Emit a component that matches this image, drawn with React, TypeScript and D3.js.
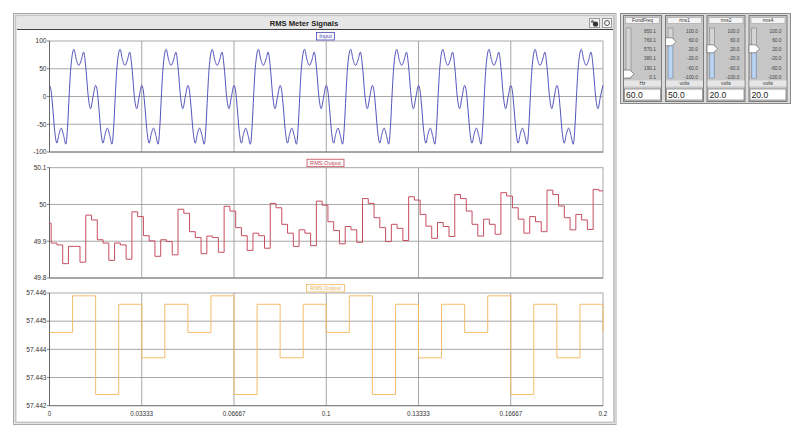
import React from 'react';
import * as d3 from 'd3';

// x axis (seconds)
const xTicks = [0, 0.03333, 0.06667, 0.1, 0.13333, 0.16667, 0.2];
const xTickLabels = ['0', '0.03333', '0.06667', '0.1', '0.13333', '0.16667', '0.2'];

// y ticks of the three graphs
const inputTicks = [-100, -50, 0, 50, 100];
const inputTickLabels = ['-100', '-50', '0', '50', '100'];
const rms1Ticks = [49.8, 49.9, 50, 50.1];
const rms1TickLabels = ['49.8', '49.9', '50', '50.1'];
const rms2Ticks = [57.442, 57.443, 57.444, 57.445, 57.446];
const rms2TickLabels = ['57.442', '57.443', '57.444', '57.445', '57.446'];

// one cycle of the input waveform (phase 0..1 of a 60 Hz period)
const fundPeriod = 1 / 60;
const inputCycles = 12;
const inputPhase = [0, 0.035, 0.07, 0.11, 0.16, 0.205, 0.255, 0.305, 0.355, 0.395, 0.425,
  0.46, 0.53, 0.58, 0.635, 0.69, 0.74, 0.79, 0.84, 0.89, 0.945];
const inputCycle = [20, 10, -20, -60, -84, -68, -57, -70, -86, -50, 0,
  50, 85, 67, 56, 66, 80, 50, 0, -22, 0];

// RMS Output (red) : step values, first one is a short partial step
const rms1FirstEdge = 0.0006;
const rms1Dt = 0.2 / 96;
const rms1Values = [
  49.949,
  49.895, 49.890, 49.839, 49.886, 49.886, 49.843,
  49.971, 49.958, 49.904, 49.895, 49.848, 49.895, 49.890, 49.851,
  49.980, 49.967, 49.915, 49.901, 49.859, 49.904, 49.899, 49.863,
  49.987, 49.976, 49.926, 49.910, 49.866, 49.914, 49.910, 49.870,
  49.995, 49.982, 49.937, 49.915, 49.875, 49.922, 49.915, 49.881,
  50.003, 49.991, 49.946, 49.922, 49.886, 49.931, 49.922, 49.888,
  50.009, 49.998, 49.953, 49.929, 49.893, 49.940, 49.931, 49.897,
  50.016, 50.003, 49.964, 49.937, 49.899, 49.946, 49.935, 49.902,
  50.021, 50.012, 49.973, 49.941, 49.908, 49.951, 49.940, 49.913,
  50.027, 50.016, 49.982, 49.946, 49.914, 49.960, 49.946, 49.919,
  50.032, 50.023, 49.991, 49.960, 49.922, 49.967, 49.953, 49.926,
  50.039, 50.027, 49.996, 49.964, 49.931, 49.973, 49.958, 49.932,
  50.041, 50.037,
];

// RMS Output (orange) : one value per half cycle
const rms2Dt = 0.2 / 24;
const rms2Values = [
  57.4446, 57.4459, 57.4424, 57.4456, 57.4437, 57.4456,
  57.4446, 57.4459, 57.4424, 57.4456, 57.4437, 57.4456,
  57.4446, 57.4459, 57.4424, 57.4456, 57.4437, 57.4456,
  57.4446, 57.4459, 57.4424, 57.4456, 57.4437, 57.4456,
  57.4446,
];

// slider panel
const sliderNames = ['FundFreq', 'rms1', 'rms2', 'rms4'];
const sliderUnits = ['Hz', 'volts', 'volts', 'volts'];
const sliderValues = [60, 50, 20, 20];
const sliderMin = [0.1, -100, -100, -100];
const sliderMax = [950.1, 100, 100, 100];
const freqScaleLabels = ['950.1', '760.1', '570.1', '380.1', '190.1', '0.1'];
const voltScaleLabels = ['100.0', '60.0', '20.0', '-20.0', '-60.0', '-100.0'];

type Pt = { t: number; v: number };

const FONT = 'Liberation Sans, Arial, sans-serif';

export default function App() {
  const left = 49.5;
  const right = 603;
  const x = d3.scaleLinear().domain([0, 0.2]).range([left, right]);

  const inputPts: Pt[] = [];
  for (let c = 0; c < inputCycles; c++) {
    inputPhase.forEach((p, i) => inputPts.push({ t: (c + p) * fundPeriod, v: inputCycle[i] }));
  }
  inputPts.push({ t: 0.2, v: inputCycle[0] });

  const rms1Pts: Pt[] = rms1Values.map((v, i) => ({
    t: i === 0 ? 0 : rms1FirstEdge + (i - 1) * rms1Dt,
    v,
  }));
  rms1Pts.push({ t: 0.2, v: rms1Values[rms1Values.length - 1] });

  const rms2Pts: Pt[] = rms2Values.map((v, i) => ({ t: Math.min(i * rms2Dt, 0.2), v }));

  const panels = [
    { top: 41, bottom: 152, domain: [-100, 100], ticks: inputTicks, labels: inputTickLabels,
      legend: 'Input', color: '#4a4ab8', pts: inputPts, curve: d3.curveMonotoneX, lw: 18 },
    { top: 167.7, bottom: 278, domain: [49.8, 50.1], ticks: rms1Ticks, labels: rms1TickLabels,
      legend: 'RMS Output', color: '#c44656', pts: rms1Pts, curve: d3.curveStepAfter, lw: 37 },
    { top: 293, bottom: 405.7, domain: [57.442, 57.446], ticks: rms2Ticks, labels: rms2TickLabels,
      legend: 'RMS Output', color: '#f3b862', pts: rms2Pts, curve: d3.curveStepAfter, lw: 38 },
  ];

  const legendX = 325;

  // slider geometry
  const sliderLeft = [623, 665, 706.5, 748.5];
  const trackY = d3.scaleLinear().domain([0, 1]).range([77, 30]);

  return (
    <svg width={800} height={446} style={{ position: 'absolute', left: 0, top: 0, background: '#fff' }}
      fontFamily={FONT}>
      {/* window frame */}
      <rect x={13.5} y={13.5} width={602.5} height={411} fill="#fff" stroke="#a8a8a8" strokeWidth={1} />
      <rect x={15.5} y={15.5} width={598.5} height={407} fill="none" stroke="#c8c8c8" strokeWidth={2} />
      <rect x={17} y={17} width={596} height={12} fill="#e6e6e6" />
      <line x1={17} x2={613} y1={29.5} y2={29.5} stroke="#404040" />
      <text x={304} y={25.5} textAnchor="middle" fontSize={7.6} fontWeight="bold" fill="#222">RMS Meter Signals</text>
      {/* title bar icons */}
      <g>
        <rect x={589.5} y={18.5} width={10} height={9} fill="#f2f2f2" stroke="#9a9a9a" />
        <circle cx={595.5} cy={24} r={2.6} fill="#333" />
        <circle cx={592.5} cy={21.5} r={1.6} fill="#777" />
        <rect x={602.5} y={18.5} width={9} height={9} fill="#f8f8f8" stroke="#9a9a9a" />
        <circle cx={607} cy={23} r={2.5} fill="none" stroke="#444" strokeWidth={0.9} />
      </g>

      {panels.map((p, pi) => {
        const y = d3.scaleLinear().domain(p.domain).range([p.bottom, p.top]);
        const line = d3.line<Pt>().x(d => x(d.t)).y(d => y(d.v)).curve(p.curve);
        return (
          <g key={pi}>
            {xTicks.slice(1, -1).map((t, i) => (
              <line key={'vx' + i} x1={x(t)} x2={x(t)} y1={p.top} y2={p.bottom} stroke="#909090" strokeWidth={0.8} />
            ))}
            {p.ticks.slice(1, -1).map((t, i) => (
              <line key={'hy' + i} x1={left} x2={right} y1={y(t)} y2={y(t)} stroke="#909090" strokeWidth={0.8} />
            ))}
            <rect x={left} y={p.top} width={right - left} height={p.bottom - p.top} fill="none" stroke="#a0a0a0" strokeWidth={0.9} />
            <line x1={left} x2={left} y1={p.top} y2={p.bottom} stroke="#606060" strokeWidth={0.9} />
            <line x1={left} x2={right} y1={p.bottom} y2={p.bottom} stroke="#707070" strokeWidth={0.9} />
            {p.ticks.map((t, i) => (
              <g key={'yt' + i}>
                <line x1={left - 2.5} x2={left} y1={y(t)} y2={y(t)} stroke="#606060" strokeWidth={0.8} />
                <text x={left - 3} y={y(t)} dy="0.35em" textAnchor="end" fontSize={6.6} fill="#333">{p.labels[i]}</text>
              </g>
            ))}
            <path d={line(p.pts) || ''} fill="none" stroke={p.color} strokeWidth={0.95} />
            <rect x={legendX - p.lw / 2 + 0.5} y={p.top - 9 + 0.5} width={p.lw} height={7.5}
              fill="#fbfbfb" stroke={p.color} strokeWidth={0.8} />
            <text x={legendX + 0.5} y={p.top - 3} textAnchor="middle" fontSize={5.6} fill={p.color}>{p.legend}</text>
          </g>
        );
      })}

      {xTicks.map((t, i) => (
        <text key={'xt' + i} x={x(t)} y={416} textAnchor="middle" fontSize={6.3} fill="#333">{xTickLabels[i]}</text>
      ))}

      {/* slider group */}
      <rect x={620.5} y={13.5} width={170} height={90} fill="#dcdcdc" stroke="#8a8a8a" />
      {sliderNames.map((name, i) => {
        const px = sliderLeft[i];
        const frac = (sliderValues[i] - sliderMin[i]) / (sliderMax[i] - sliderMin[i]);
        const ty = trackY(frac);
        const labels = i === 0 ? freqScaleLabels : voltScaleLabels;
        const labelY = d3.scaleLinear().domain([0, labels.length - 1]).range([31.5, 77]);
        return (
          <g key={name}>
            <rect x={px + 0.5} y={15.5} width={38} height={86} fill="#c6c6c6" stroke="#7c7c7c" />
            <rect x={px + 2.5} y={17.5} width={34} height={6} fill="#f4f4f4" stroke="#a0a0a0" strokeWidth={0.6} />
            <text x={px + 19.5} y={22.3} textAnchor="middle" fontSize={4.8} fill="#333">{name}</text>
            <rect x={px + 3} y={28} width={5} height={50} fill="#d4d4d4" stroke="#8e8e8e" strokeWidth={0.7} />
            {i > 0 && (
              <rect x={px + 3.5} y={ty} width={4} height={78 - ty} fill="#bcd6f2" stroke="#7ea6d6" strokeWidth={0.5} />
            )}
            {labels.map((l, k) => (
              <text key={k} x={px + 33} y={labelY(k)} dy="0.35em" textAnchor="end" fontSize={4.8} fill="#444">{l}</text>
            ))}
            <polygon
              points={`${px + 0.5},${ty - 4} ${px + 7},${ty - 4} ${px + 11},${ty} ${px + 7},${ty + 4} ${px + 0.5},${ty + 4}`}
              fill="#fff" stroke="#666" strokeWidth={0.7} />
            <rect x={px + 1} y={80.5} width={37} height={6} fill="#e6e6e6" />
            <text x={px + 19.5} y={85.3} textAnchor="middle" fontSize={4.8} fill="#333">{sliderUnits[i]}</text>
            <rect x={px + 1.5} y={89} width={36} height={11} fill="#fff" stroke="#8a8a8a" strokeWidth={0.8} />
            <text x={px + 3} y={98} fontSize={8.6} fill="#222">{sliderValues[i].toFixed(1)}</text>
          </g>
        );
      })}
    </svg>
  );
}
